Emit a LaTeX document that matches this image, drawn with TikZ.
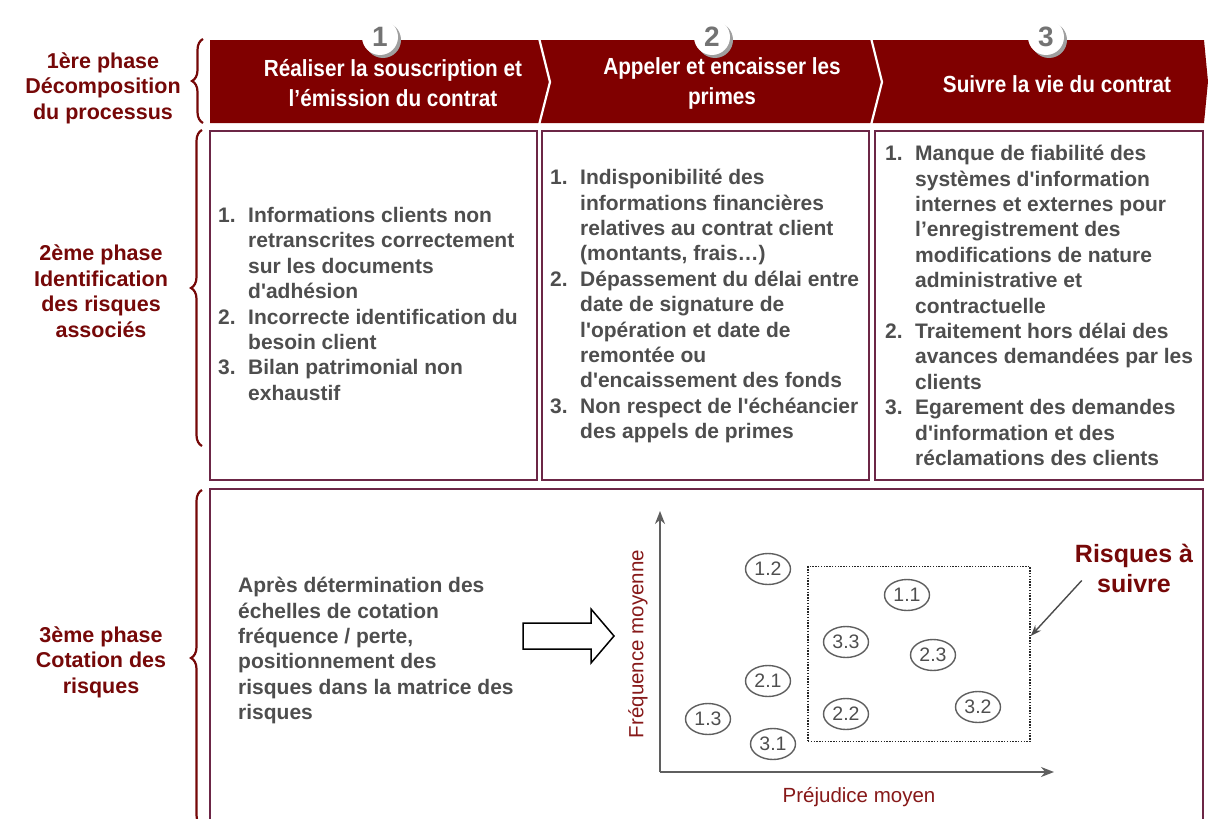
\documentclass[tikz,border=0pt]{standalone}
\usepackage{fontspec}
\setmainfont{Liberation Sans}[Ligatures=TeXOff]
\newfontfamily\hdrfont{Liberation Sans}[Ligatures=TeXOff, FakeStretch=0.89]
\usetikzlibrary{decorations.pathreplacing,arrows.meta,shapes.geometric,shadows}

\definecolor{bandred}{RGB}{128,0,0}
\definecolor{labred}{RGB}{118,8,8}
\definecolor{axred}{RGB}{135,25,25}
\definecolor{boxline}{RGB}{108,38,70}
\definecolor{txtgrey}{RGB}{78,78,78}
\definecolor{axisgrey}{RGB}{95,95,95}
\definecolor{ringgrey}{RGB}{95,95,95}
\definecolor{numgrey}{RGB}{115,115,115}

% numbered list helpers: label column and hanging indent
\newcommand\itm[1]{\makebox[30pt][l]{#1}}
\newcommand\ind{\hspace*{30pt}}

\begin{document}
\begin{tikzpicture}[x=1pt,y=-1pt,
  lab/.style={text=labred, font=\bfseries\fontsize{21.5}{25.5}\selectfont, align=center, inner sep=0},
  hdr/.style={text=white, font=\hdrfont\bfseries\fontsize{23.3}{30}\selectfont, align=center, inner sep=0},
  body/.style={text=txtgrey, font=\bfseries\fontsize{21}{25.4}\selectfont, align=left, inner sep=0, anchor=north west},
  disc/.style={circle, fill=white, minimum size=36pt, inner sep=0, text=numgrey,
    font=\bfseries\fontsize{28}{28}\selectfont,
    drop shadow={shadow xshift=3pt, shadow yshift=-3pt, fill=gray!75, opacity=1}},
  boxframe/.style={draw=boxline, line width=1.7pt},
  brc/.style={draw=labred, line width=2.2pt, decorate, decoration={brace, amplitude=11pt}},
  axis/.style={draw=axisgrey, line width=1.8pt, -{Stealth[length=13pt, width=10pt]}},
  axlab/.style={text=axred, font=\fontsize{20.5}{20.5}\selectfont, inner sep=0},
  risk/.style={ellipse, draw=ringgrey, line width=1.4pt, minimum width=45pt, minimum height=31pt,
    inner sep=0, text=txtgrey, font=\fontsize{19.5}{19.5}\selectfont},
  zonebox/.style={draw=black!85, dash pattern=on 1.4pt off 1.4pt, line width=1.5pt, inner sep=0},
  pointer/.style={draw=black!70, line width=1.4pt, -{Stealth[length=11pt, width=8pt]}}
]
\useasboundingbox (0,0) rectangle (1208,819);
\fill[white] (0,0) rectangle (1208,819);

% ---- process band (phase 1)
\fill[bandred] (210,40) -- (1204,40) -- (1208,81.5) -- (1204,123) -- (210,123) -- cycle;
\draw[white, line width=2.2pt] (539,38) -- (550,82) -- (539,125);
\draw[white, line width=2.2pt] (871,38) -- (882,82) -- (871,125);

\node[disc] (n1) at (380,37) {1};
\node[disc] (n2) at (712,37) {2};
\node[disc] (n3) at (1046,37) {3};

\node[hdr] (h1) at (393,83) {Réaliser la souscription et\\l’émission du contrat};
\node[hdr] (h2) at (722,83) {Appeler et encaisser les\\primes};
\node[hdr] (h3) at (1057,84) {Suivre la vie du contrat};

% ---- phase labels and braces
\node[lab] (p1) at (103,88) {1ère phase\\Décomposition\\du processus};
\node[lab] (p2) at (101,291) {2ème phase\\Identification\\des risques\\associés};
\node[lab] (p3) at (101,662) {3ème phase\\Cotation des\\risques};

\draw[brc] (203,123) -- (203,39);
\draw[brc] (202,446) -- (202,130);
\draw[brc] (202,826) -- (202,490);

% ---- risk boxes (phase 2)
\draw[boxframe] (210,131) rectangle (537,480);
\draw[boxframe] (542,131) rectangle (869,480);
\draw[boxframe] (875,131) rectangle (1203,480);

\node[body] (l1) at (218,207) {%
\itm{1.}Informations clients non\\
\ind retranscrites correctement\\
\ind sur les documents\\
\ind d'adhésion\\
\itm{2.}Incorrecte identification du\\
\ind besoin client\\
\itm{3.}Bilan patrimonial non\\
\ind exhaustif};

\node[body] (l2) at (550,169) {%
\itm{1.}Indisponibilité des\\
\ind informations financières\\
\ind relatives au contrat client\\
\ind (montants, frais…)\\
\itm{2.}Dépassement du délai entre\\
\ind date de signature de\\
\ind l'opération et date de\\
\ind remontée ou\\
\ind d'encaissement des fonds\\
\itm{3.}Non respect de l'échéancier\\
\ind des appels de primes};

\node[body] (l3) at (885,145) {%
\itm{1.}Manque de fiabilité des\\
\ind systèmes d'information\\
\ind internes et externes pour\\
\ind l’enregistrement des\\
\ind modifications de nature\\
\ind administrative et\\
\ind contractuelle\\
\itm{2.}Traitement hors délai des\\
\ind avances demandées par les\\
\ind clients\\
\itm{3.}Egarement des demandes\\
\ind d'information et des\\
\ind réclamations des clients};

% ---- phase 3: rating and risk matrix
\draw[boxframe] (210,489) rectangle (1203,830);

\node[body] (t3) at (238,577) {Après détermination des\\
échelles de cotation\\
fréquence / perte,\\
positionnement des\\
risques dans la matrice des\\
risques};

\draw[black, line width=1.5pt, fill=white, line join=miter]
  (523,623) -- (591,623) -- (591,609) -- (614,636) -- (591,663) -- (591,649) -- (523,649) -- cycle;

\coordinate (O) at (660,772);
\coordinate (ytop) at (660,511);
\coordinate (xend) at (1054,772);
\draw[axis] (O) -- (ytop);
\draw[axis] (O) -- (xend);

\node[axlab, rotate=90] (ylab) at (638,644) {Fréquence moyenne};
\node[axlab] (xlab) at (859,797) {Préjudice moyen};

\node[zonebox, minimum width=222pt, minimum height=175pt] (zone) at (919,654) {};

\node[risk] (r12) at (768,569) {1.2};
\node[risk] (r11) at (907,595) {1.1};
\node[risk] (r33) at (846,642) {3.3};
\node[risk] (r23) at (933,655) {2.3};
\node[risk] (r21) at (768,681) {2.1};
\node[risk] (r32) at (978,707) {3.2};
\node[risk] (r13) at (708,719) {1.3};
\node[risk] (r22) at (846,714) {2.2};
\node[risk] (r31) at (773,744) {3.1};

\node[text=labred, font=\bfseries\fontsize{25}{30}\selectfont, align=center, inner sep=0] (rs) at (1134,568) {Risques à\\suivre};
\draw[pointer] ([xshift=7pt, yshift=12pt]rs.south west) -- ([yshift=18pt]zone.east);
\end{tikzpicture}
\end{document}
